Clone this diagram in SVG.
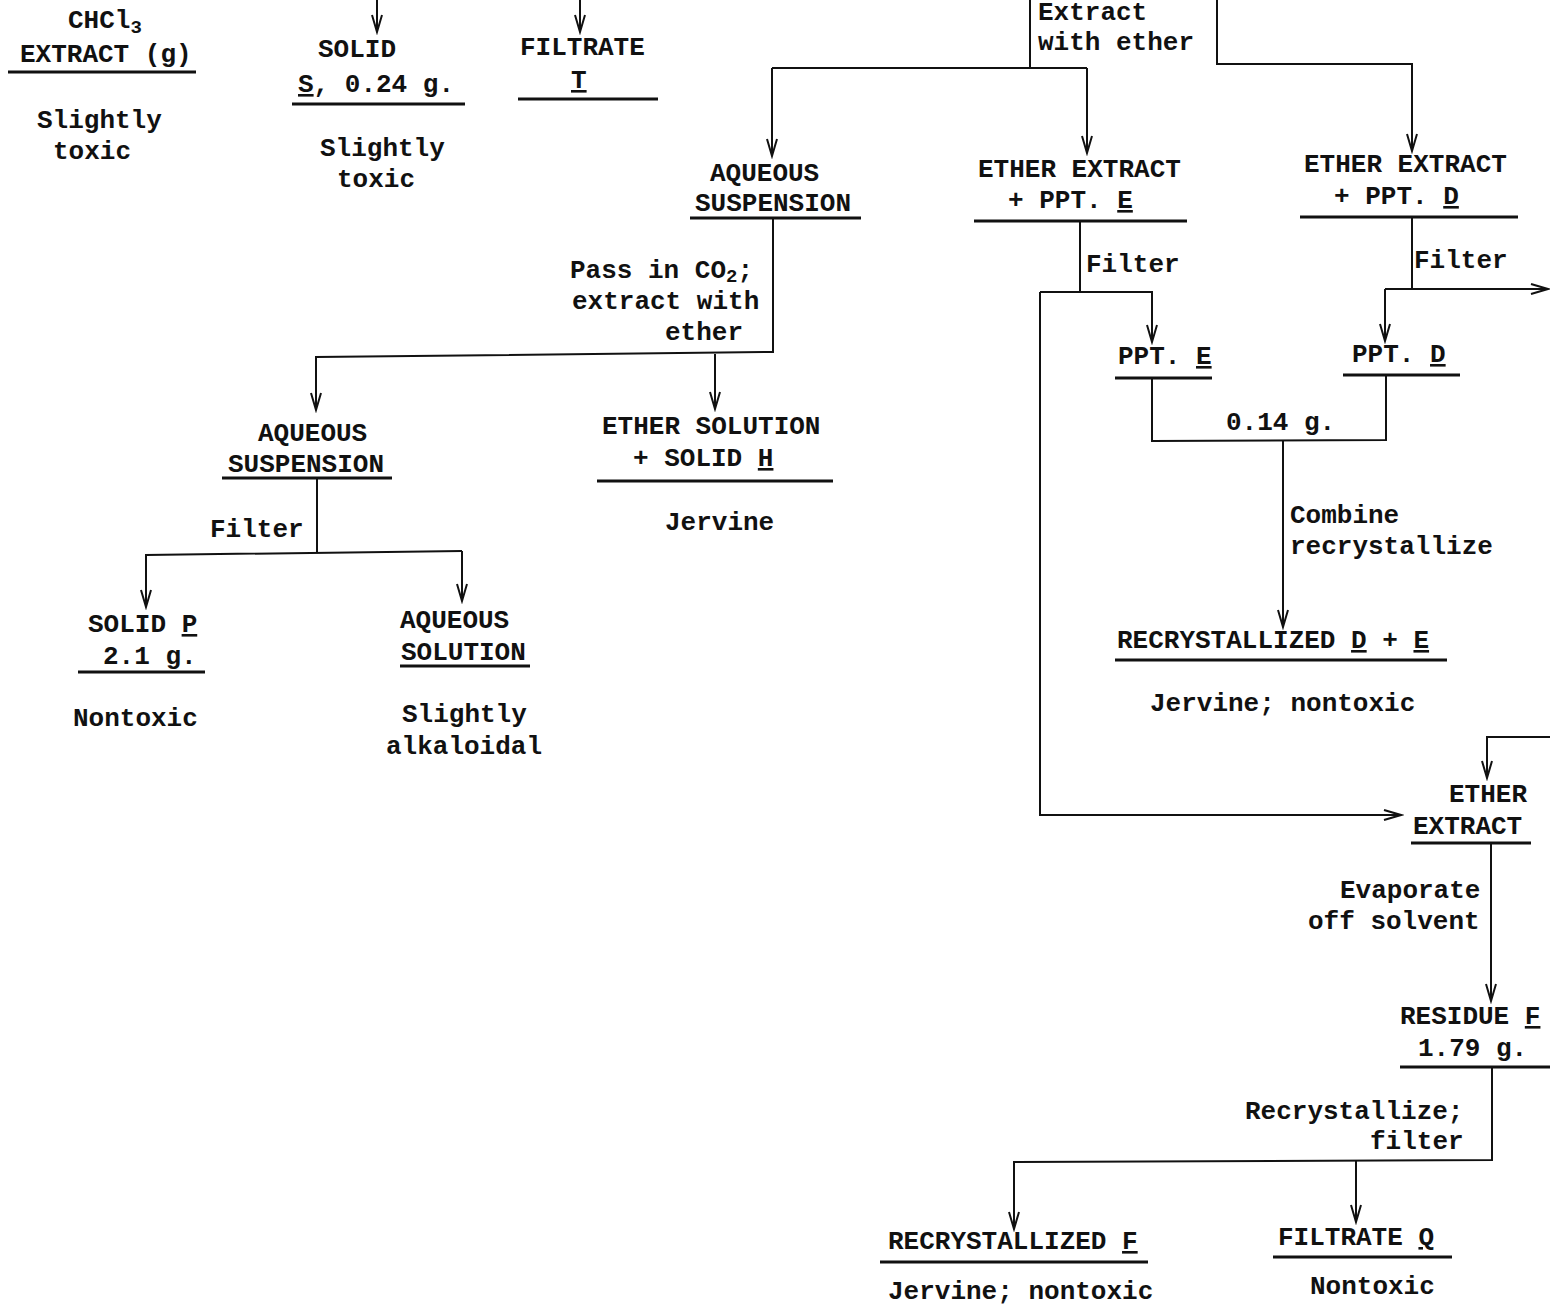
<svg xmlns="http://www.w3.org/2000/svg" width="1550" height="1304" viewBox="0 0 1550 1304">
<defs>
<style>
text{font-family:"Liberation Mono","DejaVu Sans Mono",monospace;font-size:26px;font-weight:bold;fill:#111}
.u{text-decoration:underline}
.sub{font-size:19px}
.rule{stroke:#111;stroke-width:3;fill:none}
.c{stroke:#111;stroke-width:2;fill:none}
</style>
<marker id="ah" markerUnits="userSpaceOnUse" markerWidth="22" markerHeight="14" viewBox="-19 -7 22 14" refX="0" refY="0" orient="auto">
<path d="M-17,-5 L0,0 L-17,5" fill="none" stroke="#111" stroke-width="2"/>
</marker>
</defs>
<rect width="1550" height="1304" fill="#fff"/>

<g id="connectors">
<line class="c" x1="377" y1="0" x2="377" y2="32" marker-end="url(#ah)"/>
<line class="c" x1="580" y1="0" x2="580" y2="32" marker-end="url(#ah)"/>
<polyline class="c" points="1030,0 1030,68"/>
<polyline class="c" points="772,68 1087,68"/>
<line class="c" x1="772" y1="68" x2="772" y2="156" marker-end="url(#ah)"/>
<line class="c" x1="1087" y1="68" x2="1087" y2="153" marker-end="url(#ah)"/>
<polyline class="c" points="1217,0 1217,64 1412,64 1412,151" marker-end="url(#ah)"/>
<polyline class="c" points="773,218 773,352 316,357 316,410" marker-end="url(#ah)"/>
<line class="c" x1="715" y1="354" x2="715" y2="409" marker-end="url(#ah)"/>
<polyline class="c" points="317,478 317,552"/>
<polyline class="c" points="462,551 146,555 146,607" marker-end="url(#ah)"/>
<line class="c" x1="462" y1="551" x2="462" y2="601" marker-end="url(#ah)"/>
<polyline class="c" points="1080,221 1080,292"/>
<polyline class="c" points="1040,292 1152,292 1152,342" marker-end="url(#ah)"/>
<polyline class="c" points="1040,292 1040,815 1401,815" marker-end="url(#ah)"/>
<polyline class="c" points="1412,217 1412,289"/>
<line class="c" x1="1385" y1="289" x2="1548" y2="289" marker-end="url(#ah)"/>
<line class="c" x1="1385" y1="289" x2="1385" y2="341" marker-end="url(#ah)"/>
<polyline class="c" points="1152,378 1152,441 1386,440 1386,375"/>
<line class="c" x1="1283" y1="440" x2="1283" y2="627" marker-end="url(#ah)"/>
<polyline class="c" points="1550,737 1487,737 1487,778" marker-end="url(#ah)"/>
<line class="c" x1="1491" y1="843" x2="1491" y2="1001" marker-end="url(#ah)"/>
<polyline class="c" points="1492,1067 1492,1160 1014,1162 1014,1229" marker-end="url(#ah)"/>
<line class="c" x1="1356" y1="1161" x2="1356" y2="1222" marker-end="url(#ah)"/>
</g>

<g id="chcl3-extract">
<text x="68" y="28">CHCl<tspan class="sub" dy="5">3</tspan></text>
<text x="20" y="62">EXTRACT (g)</text>
<line class="rule" x1="8" y1="72" x2="196" y2="72"/>
<text x="37" y="128">Slightly</text>
<text x="53" y="159">toxic</text>
</g>

<g id="solid-s">
<text x="318" y="57">SOLID</text>
<text x="298" y="92"><tspan class="u">S</tspan>, 0.24 g.</text>
<line class="rule" x1="292" y1="104" x2="465" y2="104"/>
<text x="320" y="156">Slightly</text>
<text x="337" y="187">toxic</text>
</g>

<g id="filtrate-t">
<text x="520" y="55">FILTRATE</text>
<text x="571" y="88" class="u">T</text>
<line class="rule" x1="518" y1="99" x2="658" y2="99"/>
</g>

<g id="extract-label">
<text x="1038" y="20">Extract</text>
<text x="1038" y="50">with ether</text>
</g>

<g id="aqueous-suspension-1">
<text x="710" y="181">AQUEOUS</text>
<text x="695" y="211">SUSPENSION</text>
<line class="rule" x1="690" y1="218" x2="861" y2="218"/>
</g>

<g id="ether-extract-e">
<text x="978" y="177">ETHER EXTRACT</text>
<text x="1008" y="208">+ PPT. <tspan class="u">E</tspan></text>
<line class="rule" x1="974" y1="221" x2="1187" y2="221"/>
</g>

<g id="ether-extract-d">
<text x="1304" y="172">ETHER EXTRACT</text>
<text x="1334" y="204">+ PPT. <tspan class="u">D</tspan></text>
<line class="rule" x1="1300" y1="217" x2="1518" y2="217"/>
</g>

<g id="label-co2">
<text x="570" y="278">Pass in CO<tspan class="sub" dy="4">2</tspan><tspan dy="-4">;</tspan></text>
<text x="572" y="309">extract with</text>
<text x="665" y="340">ether</text>
</g>

<g id="aqueous-suspension-2">
<text x="258" y="441">AQUEOUS</text>
<text x="228" y="472">SUSPENSION</text>
<line class="rule" x1="222" y1="478" x2="392" y2="478"/>
</g>

<g id="ether-solution-h">
<text x="602" y="434">ETHER SOLUTION</text>
<text x="633" y="466">+ SOLID <tspan class="u">H</tspan></text>
<line class="rule" x1="597" y1="481" x2="833" y2="481"/>
<text x="665" y="530">Jervine</text>
</g>

<g id="label-filter-1">
<text x="210" y="537">Filter</text>
</g>

<g id="solid-p">
<text x="88" y="632">SOLID <tspan class="u">P</tspan></text>
<text x="103" y="664">2.1 g.</text>
<line class="rule" x1="78" y1="672" x2="205" y2="672"/>
<text x="73" y="726">Nontoxic</text>
</g>

<g id="aqueous-solution">
<text x="400" y="628">AQUEOUS</text>
<text x="401" y="660">SOLUTION</text>
<line class="rule" x1="400" y1="666" x2="530" y2="666"/>
<text x="402" y="722">Slightly</text>
<text x="386" y="754">alkaloidal</text>
</g>

<g id="label-filter-2">
<text x="1086" y="272">Filter</text>
</g>
<g id="label-filter-3">
<text x="1414" y="268">Filter</text>
</g>

<g id="ppt-e">
<text x="1118" y="364">PPT. <tspan class="u">E</tspan></text>
<line class="rule" x1="1115" y1="378" x2="1212" y2="378"/>
</g>

<g id="ppt-d">
<text x="1352" y="362">PPT. <tspan class="u">D</tspan></text>
<line class="rule" x1="1343" y1="375" x2="1460" y2="375"/>
</g>

<g id="label-combine">
<text x="1226" y="430">0.14 g.</text>
<text x="1290" y="523">Combine</text>
<text x="1290" y="554">recrystallize</text>
</g>

<g id="recrystallized-de">
<text x="1117" y="648">RECRYSTALLIZED <tspan class="u">D</tspan> + <tspan class="u">E</tspan></text>
<line class="rule" x1="1115" y1="660" x2="1447" y2="660"/>
<text x="1150" y="711">Jervine; nontoxic</text>
</g>

<g id="ether-extract-2">
<text x="1449" y="802">ETHER</text>
<text x="1413" y="834">EXTRACT</text>
<line class="rule" x1="1411" y1="843" x2="1531" y2="843"/>
</g>

<g id="label-evaporate">
<text x="1340" y="898">Evaporate</text>
<text x="1308" y="929">off solvent</text>
</g>

<g id="residue-f">
<text x="1400" y="1024">RESIDUE <tspan class="u">F</tspan></text>
<text x="1418" y="1056">1.79 g.</text>
<line class="rule" x1="1400" y1="1067" x2="1550" y2="1067"/>
</g>

<g id="label-recrystallize">
<text x="1245" y="1119">Recrystallize;</text>
<text x="1370" y="1149">filter</text>
</g>

<g id="recrystallized-f">
<text x="888" y="1249">RECRYSTALLIZED <tspan class="u">F</tspan></text>
<line class="rule" x1="880" y1="1262" x2="1148" y2="1262"/>
<text x="888" y="1299">Jervine; nontoxic</text>
</g>

<g id="filtrate-q">
<text x="1278" y="1245">FILTRATE <tspan class="u">Q</tspan></text>
<line class="rule" x1="1273" y1="1257" x2="1452" y2="1257"/>
<text x="1310" y="1294">Nontoxic</text>
</g>
</svg>
